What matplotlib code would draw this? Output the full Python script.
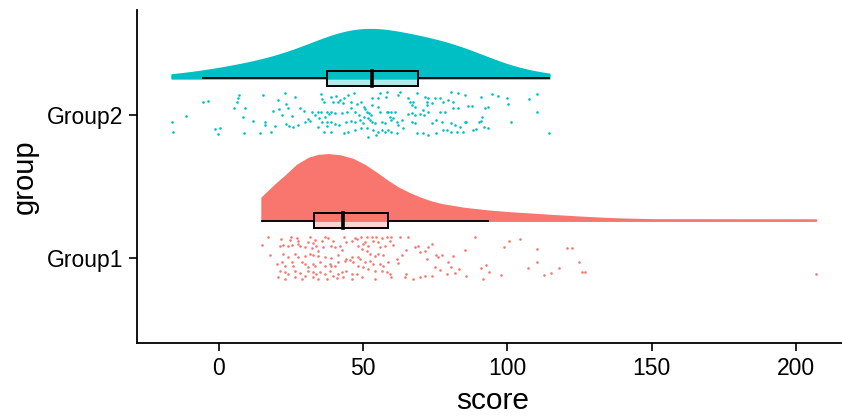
import numpy as np
import matplotlib
matplotlib.use('Agg')
import matplotlib.pyplot as plt
from matplotlib.patches import Rectangle

# values
groups = ['Group1', 'Group2']
colors = ['#F8766D', '#00BFC4']

g2_score = [6.9, 6.5, 6.1, 5.3, 9.1, -5.4, -3.8, 15.4, -11.5, -16.4, 8.2, 11.8, -15.9, -1.3, 0.2, -0.2, 8.8, 14.1, 16.0,
            22.8, 26.5, 20.3, 23.4, 24.0, 20.8, 18.6, 21.7, 25.2, 28.1, 29.5, 16.1, 19.4, 23.1, 24.2, 25.7, 27.5, 18.2,
            30.7, 32.1, 31.5, 34.2, 35.5, 35.3, 35.8, 36.5, 39.0, 40.7, 41.9, 43.4, 44.8, 46.9, 39.6, 41.1, 43.0, 45.9,
            47.7, 49.4, 50.3, 45.7, 44.4, 47.1, 48.5, 50.3, 39.0, 37.5, 36.7, 38.1, 40.2, 42.7, 33.2, 34.6, 35.8, 37.3,
            39.0, 40.2, 41.6, 44.1, 45.9, 47.3, 48.8, 50.0, 34.4, 37.6, 36.5, 39.0, 43.4, 44.8, 47.1, 49.4, 29.8,
            50.6, 51.2, 52.0, 52.7, 51.5, 52.3, 53.1, 54.1, 51.2, 53.5, 55.2, 56.4, 57.5, 58.7, 59.8, 61.6, 55.8, 58.1,
            57.8, 55.2, 52.9, 52.9, 55.2, 55.8, 58.1, 58.7, 59.8, 61.0, 59.3, 60.4, 59.8, 61.6, 63.3, 63.9, 62.2, 57.5,
            56.4, 62.7, 62.2, 65.6, 67.3, 66.2, 66.8, 67.9, 68.5, 71.4, 72.5, 72.0, 73.7, 72.0, 70.8, 72.5, 71.2, 69.7,
            67.9, 66.8, 65.6, 74.9, 76.6, 77.7, 79.5, 81.2, 80.4, 82.7, 85.2, 81.2, 76.6, 78.3, 83.0, 66.8, 67.9, 73.7,
            75.4, 77.2, 80.6, 81.8, 83.5, 85.2, 68.5, 70.8, 72.5, 75.4, 77.7, 78.9, 80.6, 82.4, 84.7, 51.8, 54.6,
            90.8, 94.5, 96.8, 99.7, 100.3, 86.2, 87.8, 92.2, 93.1, 91.3, 90.1, 91.0, 85.5, 101.2, 92.0, 93.4, 88.2,
            89.0, 107.4, 110.4, 110.1, 114.5]
g2_jit = [0.146, 0.122, 0.094, 0.051, 0.054, 0.096, 0.101, 0.143, -0.007, -0.049, -0.014, -0.042, -0.115, -0.094,
          -0.089, -0.131, -0.124, -0.127, -0.045,
          0.159, 0.131, 0.108, 0.077, 0.054, 0.044, 0.030, 0.002, -0.002, 0.054, 0.030, -0.068, -0.075, -0.063,
          -0.073, -0.080, -0.068, -0.120, -0.026, 0.026, -0.040, 0.026, 0.021, 0.148, 0.113, 0.096, 0.131, 0.138,
          0.106, 0.124, 0.143, 0.155, 0.096, 0.091, 0.084, 0.091, 0.077, 0.091, 0.061, 0.054, 0.026, 0.021, 0.002,
          -0.010, 0.026, 0.026, -0.010, 0.007, 0.014, 0.014, 0.002, -0.021, -0.045, -0.045, -0.045, -0.063, -0.068,
          -0.045, -0.040, -0.045, -0.033, -0.056, -0.080, -0.073, -0.115, -0.115, -0.127, -0.120, -0.103, -0.087,
          -0.049,
          0.044, 0.026, 0.014, 0.002, -0.021, -0.033, -0.045, -0.056, -0.092, -0.103, -0.115, -0.103, -0.115, -0.103,
          -0.115, -0.127, 0.155, 0.162, 0.131, 0.124, 0.120, 0.073, 0.061, 0.026, 0.026, 0.021, 0.021, 0.026, -0.010,
          -0.021, -0.033, -0.045, -0.033, -0.092, -0.068, -0.056, -0.045, 0.162, 0.143, 0.124, 0.096, 0.096, 0.073,
          0.061, 0.155, 0.131, 0.120, 0.096, 0.084, 0.073, 0.037, 0.026, 0.002, 0.007, 0.002, 0.014, 0.007, 0.120,
          0.120, 0.096, 0.108, 0.096, 0.162, 0.155, 0.143, 0.049, 0.026, 0.021, 0.049, -0.045, -0.056, -0.056,
          -0.033, -0.045, -0.056, -0.068, -0.080, -0.045, -0.127, -0.127, -0.139, -0.127, -0.103, -0.103, -0.115,
          -0.115, -0.115, -0.150, -0.139,
          0.127, 0.148, 0.134, 0.120, 0.077, 0.066, 0.066, 0.049, 0.056, -0.012, -0.045, -0.040, -0.049, -0.045,
          -0.080, -0.092, -0.106, -0.096, 0.115, 0.150, 0.026, -0.127]

g1_score = [17.1, 15.0, 17.7, 21.5, 21.1, 22.3, 24.0, 25.0, 24.6, 25.4, 26.9, 27.5, 27.3, 28.1, 29.8, 31.0, 31.5,
            32.7, 32.1, 33.3, 33.8, 34.4, 35.6, 36.7, 36.2, 37.9, 38.8, 39.6, 40.2, 41.9, 43.4, 44.2, 46.0, 47.1,
            42.7, 22.3, 24.0, 26.3, 27.5, 29.8, 31.5, 32.7, 34.4, 36.7, 39.0, 41.4, 44.2, 46.0, 20.0, 21.7, 22.9,
            25.2, 25.8, 28.7, 29.8, 31.0, 32.7, 33.3, 35.0, 36.7, 38.5, 40.2, 41.4, 43.7, 45.4, 46.6, 21.1, 22.9,
            24.0, 26.3, 28.1, 29.8, 31.0, 32.7, 33.8, 35.0, 36.7, 38.5, 39.6, 41.4, 42.5, 44.2, 46.0, 20.6, 22.9,
            26.3, 28.7, 32.7, 34.4, 37.3, 40.8, 43.1, 46.0, 39.0,
            47.7, 49.2, 51.2, 52.9, 54.6, 56.4, 58.1, 59.8, 62.7, 65.6, 48.3, 50.0, 50.8, 51.8, 53.5, 55.2, 55.8,
            57.5, 59.3, 60.4, 49.5, 51.2, 52.3, 54.1, 55.2, 57.0, 48.1, 48.9, 50.6, 52.3, 53.5, 48.3, 50.0, 55.8,
            57.0, 58.7, 47.7, 51.8, 54.1, 56.4, 58.1, 59.3, 59.8, 54.1, 49.5, 61.6, 62.2, 63.3, 65.0, 67.9, 69.1,
            69.7, 71.4, 72.5, 73.7, 75.4, 76.0, 77.2, 72.0, 74.9, 79.5, 81.2, 65.0, 64.5, 67.4, 69.7, 71.4, 73.7,
            76.6, 78.9, 80.6, 81.8,
            88.7, 85.3, 83.3, 85.5, 90.8, 92.4, 93.7, 91.6, 97.7, 98.9, 100.6, 104.3, 110.1, 110.4, 107.0, 112.8,
            115.1, 118.0, 120.7, 122.5, 124.8, 126.0, 126.8, 206.9]
g1_jit = [0.143, 0.089, 0.021, 0.131, 0.084, 0.091, 0.084, 0.148, 0.124, 0.091, 0.138, 0.120, 0.096, 0.084, 0.077,
          0.108, 0.143, 0.101, 0.068, 0.124, 0.084, 0.049, 0.120, 0.143, 0.077, 0.138, 0.084, 0.120, 0.073, 0.084,
          0.148, 0.108, 0.120, 0.138, 0.054, 0.026, 0.007, 0.026, 0.002, 0.014, 0.026, 0.021, 0.014, 0.002, -0.002,
          0.021, -0.010, 0.007, -0.045, -0.033, -0.056, -0.033, -0.056, -0.033, -0.045, -0.068, -0.045, -0.056,
          -0.033, -0.056, -0.045, -0.056, -0.033, -0.021, -0.017, -0.033, -0.092, -0.103, -0.115, -0.096, -0.110,
          -0.127, -0.092, -0.103, -0.115, -0.103, -0.115, -0.092, -0.127, -0.115, -0.103, -0.092, -0.115, -0.139,
          -0.150, -0.139, -0.150, -0.139, -0.150, -0.150, -0.143, -0.139, -0.150, -0.056,
          0.131, 0.148, 0.143, 0.148, 0.148, 0.138, 0.148, 0.143, 0.148, 0.148, 0.084, 0.096, 0.108, 0.084, 0.120,
          0.108, 0.077, 0.084, 0.120, 0.091, 0.061, 0.044, 0.026, 0.014, 0.026, 0.021, 0.007, -0.010, -0.033,
          -0.021, -0.045, -0.056, -0.068, -0.045, -0.056, -0.033, -0.115, -0.080, -0.092, -0.092, -0.103, -0.115,
          -0.134, -0.150, -0.139, -0.010, -0.040, 0.021, 0.054, 0.073, 0.084, 0.037, 0.049, 0.077, 0.096, 0.021,
          0.007, 0.021, -0.010, -0.068, -0.033, 0.014, -0.115, -0.139, -0.150, -0.139, -0.127, -0.127, -0.087,
          -0.115, -0.068, -0.110,
          0.145, 0.051, -0.082, -0.129, -0.073, -0.054, -0.101, -0.153, -0.125, 0.075, 0.117, 0.129, 0.059, -0.031,
          -0.071, -0.125, -0.106, -0.073, 0.070, 0.068, -0.031, -0.101, -0.101, -0.118]

# Group1 density outline (score, height in group units)
g1_dens_x = [14.8, 17.0, 20.0, 23.2, 27.0, 31.1, 34.5, 38.0, 42.0, 46.4, 50.5, 54.2, 58.0, 62.0, 66.0, 69.7,
             73.5, 77.5, 85.0, 92.9, 100.0, 108.5, 116.0, 123.7, 131.0, 139.3, 150.0, 206.9]
g1_dens_h = [0.162, 0.205, 0.262, 0.318, 0.390, 0.440, 0.460, 0.465, 0.457, 0.432, 0.390, 0.340, 0.285, 0.232,
             0.192, 0.160, 0.133, 0.113, 0.088, 0.070, 0.058, 0.047, 0.037, 0.028, 0.020, 0.013, 0.008, 0.007]

# box statistics: whisker low, q1, median, q3, whisker high
box_stats = [[14.9, 32.9, 43.0, 58.6, 93.2],
             [-5.5, 37.4, 53.0, 69.0, 114.4]]

scores = [np.array(g1_score), np.array(g2_score)]
jits = [np.array(g1_jit), np.array(g2_jit)]


def kde(x, grid, bw):
    z = (grid[:, None] - x[None, :]) / bw
    return np.exp(-0.5 * z ** 2).sum(1) / (len(x) * bw * np.sqrt(2 * np.pi))


plt.rcParams['font.family'] = ['Liberation Sans', 'DejaVu Sans']
fig = plt.figure(figsize=(8.42, 4.17), dpi=100)
ax = fig.add_axes([0.1627, 0.1775, 0.8443, 0.7985])

g2_grid = np.linspace(scores[1].min(), scores[1].max(), 600)
g2_d = kde(scores[1], g2_grid, 11)
dens = [(np.array(g1_dens_x), np.array(g1_dens_h)), (g2_grid, g2_d / g2_d.max() * 0.345)]

for i, (s, j) in enumerate(zip(scores, jits)):
    pos = i + 1
    base = pos + 0.26
    g, d = dens[i]
    ax.fill_between(g, base, base + d, color=colors[i], lw=1.2, zorder=1)

    lo, q1, med, q3, hi = box_stats[i]
    ax.plot([lo, q1], [base, base], color='black', lw=1.3, zorder=2)
    ax.plot([q3, hi], [base, base], color='black', lw=1.3, zorder=2)
    ax.add_patch(Rectangle((q1, base - 0.053), q3 - q1, 0.106, facecolor=colors[i], alpha=0.3,
                           edgecolor='none', zorder=2))
    ax.add_patch(Rectangle((q1, base - 0.053), q3 - q1, 0.106, facecolor='none',
                           edgecolor='black', lw=1.4, zorder=3))
    ax.plot([med, med], [base - 0.053, base + 0.053], color='black', lw=2.6, zorder=3)

    ax.scatter(s, pos + j, s=3.5, color=colors[i], lw=0, zorder=4)

ax.set_xlim(-28.4, 218)
ax.set_ylim(0.4, 2.74)
ax.set_yticks([1, 2])
ax.set_yticklabels(groups)
ax.set_xticks([0, 50, 100, 150, 200])
ax.tick_params(labelsize=16.5, length=6, width=1.2, colors='black', pad=4)
ax.set_xlabel('score', fontsize=21.5, labelpad=5)
ax.set_ylabel('group', fontsize=21, labelpad=6)
for sp in ['top', 'right']:
    ax.spines[sp].set_visible(False)
for sp in ['left', 'bottom']:
    ax.spines[sp].set_linewidth(1.3)

fig.savefig('out.png', dpi=100)
